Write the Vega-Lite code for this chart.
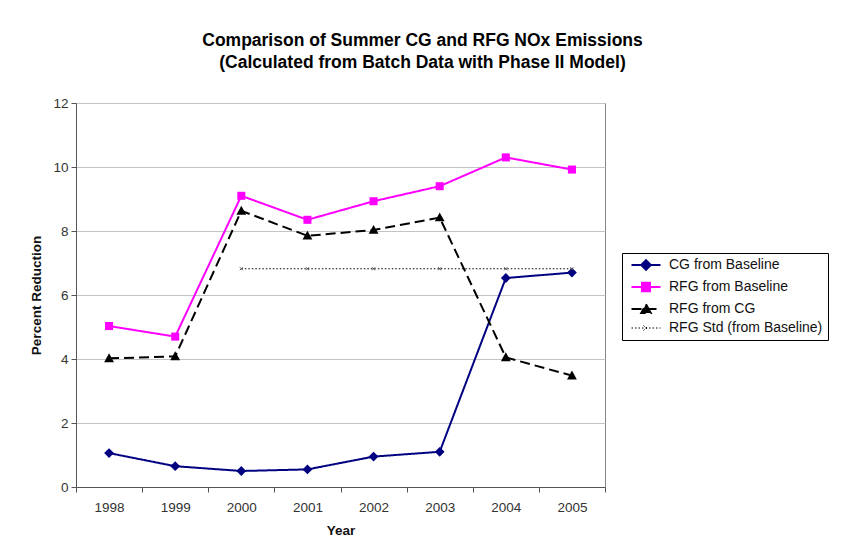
{
  "$schema": "https://vega.github.io/schema/vega-lite/v6.json",
  "autosize": {"type": "none"},
  "width": 529,
  "height": 384,
  "padding": {"left": 76, "top": 103, "right": 240, "bottom": 72},
  "background": "white",
  "config": {
    "font": "Liberation Sans",
    "view": {"stroke": "#888888", "strokeWidth": 1},
    "axis": {"labelFont": "Liberation Sans", "titleFont": "Liberation Sans", "labelFontSize": 13.5, "titleFontSize": 13.5, "labelColor": "#333333", "titleColor": "#111111", "titleFontWeight": "bold", "domainColor": "#555555", "tickColor": "#555555", "tickSize": 5}
  },
  "title": {
    "text": ["Comparison of Summer CG and RFG NOx Emissions", " (Calculated from Batch Data with Phase II Model)"],
    "font": "Liberation Sans",
    "fontSize": 17.5,
    "fontWeight": "bold",
    "color": "#000000",
    "lineHeight": 22,
    "anchor": "middle",
    "dx": 82,
    "offset": 25
  },
  "data": {
    "values": [
      {"Year": "1998", "series": "CG from Baseline", "value": 1.06},
      {"Year": "1999", "series": "CG from Baseline", "value": 0.65},
      {"Year": "2000", "series": "CG from Baseline", "value": 0.5},
      {"Year": "2001", "series": "CG from Baseline", "value": 0.55},
      {"Year": "2002", "series": "CG from Baseline", "value": 0.95},
      {"Year": "2003", "series": "CG from Baseline", "value": 1.1},
      {"Year": "2004", "series": "CG from Baseline", "value": 6.53},
      {"Year": "2005", "series": "CG from Baseline", "value": 6.7},
      {"Year": "1998", "series": "RFG from Baseline", "value": 5.03},
      {"Year": "1999", "series": "RFG from Baseline", "value": 4.7},
      {"Year": "2000", "series": "RFG from Baseline", "value": 9.1},
      {"Year": "2001", "series": "RFG from Baseline", "value": 8.35},
      {"Year": "2002", "series": "RFG from Baseline", "value": 8.93},
      {"Year": "2003", "series": "RFG from Baseline", "value": 9.4},
      {"Year": "2004", "series": "RFG from Baseline", "value": 10.3},
      {"Year": "2005", "series": "RFG from Baseline", "value": 9.92},
      {"Year": "1998", "series": "RFG from CG", "value": 4.02},
      {"Year": "1999", "series": "RFG from CG", "value": 4.08},
      {"Year": "2000", "series": "RFG from CG", "value": 8.63},
      {"Year": "2001", "series": "RFG from CG", "value": 7.85},
      {"Year": "2002", "series": "RFG from CG", "value": 8.03},
      {"Year": "2003", "series": "RFG from CG", "value": 8.42},
      {"Year": "2004", "series": "RFG from CG", "value": 4.05},
      {"Year": "2005", "series": "RFG from CG", "value": 3.48},
      {"Year": "2000", "series": "RFG Std (from Baseline)", "value": 6.82},
      {"Year": "2001", "series": "RFG Std (from Baseline)", "value": 6.82},
      {"Year": "2002", "series": "RFG Std (from Baseline)", "value": 6.82},
      {"Year": "2003", "series": "RFG Std (from Baseline)", "value": 6.82},
      {"Year": "2004", "series": "RFG Std (from Baseline)", "value": 6.82},
      {"Year": "2005", "series": "RFG Std (from Baseline)", "value": 6.82}
    ]
  },
  "encoding": {
    "x": {
      "field": "Year", "type": "ordinal", "bandPosition": 0.5,
      "scale": {"type": "band", "paddingInner": 0, "paddingOuter": 0},
      "axis": {"title": "Year", "labelAngle": 0, "tickBand": "extent", "labelPadding": 8, "titlePadding": 10, "grid": false}
    },
    "y": {
      "field": "value", "type": "quantitative",
      "scale": {"domain": [0, 12], "nice": false, "zero": true},
      "axis": {"title": "Percent Reduction", "values": [0, 2, 4, 6, 8, 10, 12], "grid": true, "gridColor": "#c4c4c4", "labelPadding": 3, "titlePadding": 9}
    }
  },
  "layer": [
    {
      "transform": [{"filter": "datum.series !== 'RFG Std (from Baseline)'"}],
      "mark": {"type": "line", "strokeWidth": 2},
      "encoding": {
        "color": {
          "field": "series", "type": "nominal",
          "scale": {"domain": ["CG from Baseline", "RFG from Baseline", "RFG from CG", "RFG Std (from Baseline)"], "range": ["#000080", "#ff00ff", "#000000", "#000000"]},
          "legend": {
            "title": null,
            "orient": "none",
            "legendX": 546,
            "legendY": 150,
            "padding": 5,
            "strokeColor": "#000000",
            "fillColor": "#ffffff",
            "labelFont": "Liberation Sans",
            "labelFontSize": 14,
            "labelColor": "#111111",
            "labelLimit": 300,
            "symbolSize": 25,
            "labelOffset": 28,
            "rowPadding": 4,
            "encode": {
              "symbols": {
                "update": {
                  "shape": {"signal": "datum.value === 'CG from Baseline' ? 'M-1,0H10.6M4.8,-1.9L6.7,0L4.8,1.9L2.9,0Z' : datum.value === 'RFG from Baseline' ? 'M-1,0H10.6M3.2,-1.7H6.4V1.7H3.2Z' : datum.value === 'RFG from CG' ? 'M-1,0H10.6M4.8,-1.9L6.7,1.6H2.9Z' : 'M-1,0H10.6M3.8,-1L5.8,1M3.8,1L5.8,-1'"},
                  "fill": {"signal": "datum.value === 'CG from Baseline' ? '#000080' : datum.value === 'RFG from Baseline' ? '#ff00ff' : datum.value === 'RFG from CG' ? '#000000' : 'transparent'"},
                  "stroke": {"signal": "datum.value === 'CG from Baseline' ? '#000080' : datum.value === 'RFG from Baseline' ? '#ff00ff' : '#000000'"},
                  "strokeDash": {"signal": "datum.value === 'RFG from CG' ? [10, 5] : datum.value === 'RFG Std (from Baseline)' ? [1.5, 2] : []"},
                  "strokeWidth": {"signal": "datum.value === 'RFG Std (from Baseline)' ? 1 : 2"},
                  "opacity": {"value": 1}
                }
              }
            }
          }
        },
        "strokeDash": {
          "field": "series", "type": "nominal",
          "scale": {"domain": ["CG from Baseline", "RFG from Baseline", "RFG from CG"], "range": [[1, 0], [1, 0], [10, 5]]},
          "legend": null
        }
      }
    },
    {
      "transform": [{"filter": "datum.series === 'RFG Std (from Baseline)'"}],
      "mark": {"type": "line", "strokeWidth": 1, "strokeDash": [1.5, 2], "color": "#000000"},
      "encoding": {}
    },
    {
      "transform": [{"filter": "datum.series !== 'RFG Std (from Baseline)'"}],
      "mark": {"type": "point", "filled": true, "opacity": 1, "size": 20},
      "encoding": {
        "fill": {"field": "series", "type": "nominal", "scale": {"domain": ["CG from Baseline", "RFG from Baseline", "RFG from CG"], "range": ["#000080", "#ff00ff", "#000000"]}, "legend": null},
        "shape": {"field": "series", "type": "nominal", "scale": {"domain": ["CG from Baseline", "RFG from Baseline", "RFG from CG"], "range": ["M0,-2.2L2.2,0L0,2.2L-2.2,0Z", "M-1.8,-1.8H1.8V1.8H-1.8Z", "M0,-2.3L2.2,1.7H-2.2Z"]}, "legend": null}
      }
    },
    {
      "transform": [{"filter": "datum.series === 'RFG Std (from Baseline)'"}],
      "mark": {"type": "point", "filled": false, "shape": "M-1,-1L1,1M-1,1L1,-1", "size": 9, "stroke": "#555555", "strokeWidth": 1, "opacity": 1},
      "encoding": {}
    }
  ],
  "resolve": {"scale": {"color": "independent", "strokeDash": "independent"}}
}
